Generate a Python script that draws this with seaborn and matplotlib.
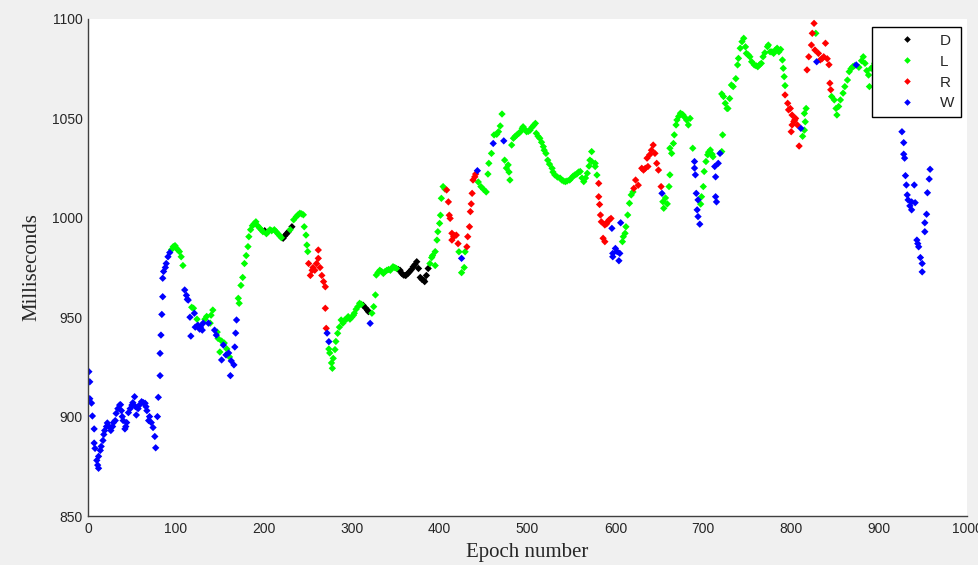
import matplotlib
matplotlib.use("Agg")
import matplotlib.pyplot as plt
import seaborn as sns
import pandas as pd

# ---------------- data ----------------
epochs = [
    1, 2, 2, 4, 5, 7, 7, 8, 10, 11, 12, 12, 14, 15, 17, 18, 19, 21, 22, 24, 26, 28, 29, 31, 32, 34, 36, 37, 38, 39,
    40, 42, 43, 44, 46, 48, 50, 51, 53, 54, 55, 57, 59, 61, 63, 65, 66, 67, 69, 70, 72, 74, 76, 77, 79, 80, 82, 82,
    83, 84, 85, 85, 86, 88, 89, 91, 93,
    95, 97, 99, 100, 102, 104, 106, 108,
    110, 112, 113, 114, 116, 117, 118, 120, 121, 122, 124, 125, 127, 128, 130, 131, 133, 135, 137, 139, 140, 142,
    144, 146, 147, 148, 150, 152, 152, 154, 155, 157, 158, 160, 161, 162, 163, 166, 167, 168, 169, 171, 172, 174,
    176, 178, 180, 182, 183, 185, 187, 189, 191, 193, 195, 197, 199, 201, 203, 205, 207, 209, 212, 214, 216, 218,
    220, 222, 224, 226, 228, 230, 232, 234, 237, 239, 241, 243, 245, 246, 248, 249, 250, 251,
    253, 255, 256, 258, 260, 262, 262, 264, 266, 268, 270, 270, 271, 272, 274, 274, 275, 277, 278, 279, 281, 282,
    284, 286, 288, 290, 292, 294, 296, 298, 300, 302, 303, 305, 307, 309, 311, 313, 316, 318, 319, 321, 323, 325,
    327, 328, 330, 332, 334, 336, 338, 340, 342, 344, 347, 349, 351, 353, 355, 357, 359, 361, 362, 364, 366, 368,
    370, 372, 374, 376, 378, 380, 382, 383, 385, 387, 389, 391, 392,
    395, 395, 397, 398, 400, 401, 402, 404, 406, 408, 410, 411,
    412, 414, 414, 416, 417, 419, 421, 422, 425, 425, 428, 429, 431, 432, 434, 435, 436, 437, 438, 440, 441, 443,
    444, 447, 450, 453, 455, 456, 459, 461, 462, 465, 467, 469, 471, 473, 474, 476, 478, 479, 480, 482, 484, 486,
    488, 490, 492, 494, 495, 497, 499, 501, 503, 505, 507, 509, 510, 512, 514, 516, 518, 519, 521, 523, 525, 528,
    529, 531, 534, 537, 539, 541, 543, 545, 548, 550, 552, 554, 556, 558, 560, 562, 564, 566, 568, 570, 571, 573,
    573, 577, 577, 579, 581, 581, 582,
    583, 584, 586, 588, 588, 590, 591, 593, 595, 596, 597, 597,
    600, 602, 604, 605, 606, 608, 609, 611,
    612, 614, 616, 618, 620, 621, 623, 626,
    630, 632, 634, 636, 637, 639, 641, 643, 645, 647, 649, 652, 653, 654, 655,
    657, 659, 661, 662, 662, 664, 666, 667, 669, 670, 672, 674, 676, 677, 679, 681, 683, 685, 688, 690, 690, 691,
    692, 693, 694, 694, 696, 697, 698, 700,
    701, 703, 705, 706, 708, 710, 711, 714, 714, 715,
    713, 717, 719, 721, 722, 721,
    723, 725, 727, 728, 730, 732, 734, 737, 739, 740, 742, 744, 746, 748, 749, 751, 753, 755, 758, 760, 762, 764,
    766, 768, 770, 773, 774, 776, 778, 780, 782, 784, 786, 788, 790, 791, 792, 793, 793,
    796, 797, 799, 800, 801, 801, 803, 804, 805, 807, 809, 811,
    813, 815, 816, 815, 817, 818,
    820, 823, 824, 826, 827, 831, 833, 835, 837, 839, 841, 843, 844, 845, 846,
    828, 829, 849,
    851, 852, 854, 856, 859, 861, 864, 866, 868, 870, 872, 874, 877, 880, 882, 884, 886, 888, 889, 891, 893, 895,
    898, 900,
    926, 928, 928, 929, 930, 931, 932, 933, 935, 937, 937, 940, 941, 943, 944, 945, 947, 949, 949, 952, 952, 954,
    955, 957, 958, 959,
]

milliseconds = [
    922.6, 917.5, 909, 906.8, 900.3, 893.8, 886.7, 884, 878, 875.6, 874, 880, 883, 885, 888, 891, 893, 895, 896.8,
    895, 893, 895, 897, 898, 901.6, 904, 905.8, 906, 903, 900, 898, 893.8, 895, 897, 902, 904, 905.8, 907, 910, 905,
    900.8, 904, 906, 907.5, 907, 906.7, 905, 903, 898, 900, 897, 894.5, 890, 884.3, 900, 909.7, 920.6, 931.8, 941,
    951.4, 960.3, 969.6, 973, 975, 977, 980.4, 982.5,
    984, 985.5, 986, 985, 984, 983, 980.4, 976,
    963.7, 961, 959, 958.6, 950, 940.5, 955, 954.5, 952, 945, 949, 946, 944, 945, 943.5, 947, 949, 950.4, 947, 947,
    951, 953.6, 943.5, 941, 942.5, 939.3, 932.5, 928.5, 938, 936, 937, 931, 934, 932, 930, 920.6, 928, 926, 935,
    942, 948.6, 959.5, 957, 966, 970, 977, 981, 985.5, 990.5, 994, 996, 997, 998, 996, 995, 994, 993, 993.5, 992,
    993, 994, 993.5, 994, 993, 992, 991, 990, 989.7, 991, 992, 993, 994, 995.5, 999, 1000.6, 1001.5, 1002.3, 1002,
    1001.5, 995.5, 991.3, 986.3, 983, 977,
    971, 973.6, 975, 973.6, 977, 983.8, 979.6, 975, 971, 967.9, 965.3, 954.5, 944.4, 942, 937.7, 934, 932, 927,
    924.3, 929.3, 933.7, 937.8, 941.9, 945, 948.6, 947, 948.6, 949, 950.3, 949, 950, 951, 952, 954, 955.3, 957,
    956.5, 956, 954.5, 953.5, 952.8, 946.9, 952, 955.3, 961.2, 971.2, 972.5, 973.6, 973, 972, 973, 973.6, 974,
    973.6, 975.4, 975, 974.5, 974, 973.6, 972, 971.2, 971, 971.2, 972, 973, 974, 975.4, 976.5, 977.9, 974.5, 970,
    969, 968.6, 967.9, 971, 974.5, 977, 980, 981,
    983, 976, 988.8, 993, 997.2, 1001.3, 1009.8, 1015.7, 1014.5, 1014, 1008, 1001.3,
    999.7, 992.2, 988.8, 990.5, 991, 991.3, 987, 982.9, 979.6, 972.4, 975, 982.9, 985.4, 990.5, 995.5, 1003.1,
    1007, 1012.3, 1019, 1020.6, 1022, 1023.7, 1018, 1015.7, 1014.3, 1013, 1022, 1027.4, 1032.4, 1037.4, 1041.7,
    1042, 1043.3, 1046.2, 1052.2, 1038.7, 1029, 1025, 1026.6, 1023, 1019, 1036.6, 1040, 1041, 1041.7, 1042.5,
    1043.3, 1045, 1045.8, 1044.5, 1043.3, 1043.5, 1044.1, 1045.5, 1046.5, 1047.5, 1042.5, 1041, 1040, 1038, 1035.8,
    1034, 1032.4, 1029, 1027, 1024.9, 1023, 1021.6, 1020.5, 1020, 1019, 1018.5, 1018.2, 1018.5, 1019, 1020, 1021,
    1021.6, 1022, 1023, 1023.3, 1020, 1018.2, 1020, 1022.4, 1026, 1029, 1033.3, 1028.3, 1025.8, 1027.4, 1021.5,
    1017.3, 1010.6, 1006.7,
    1001.4, 998, 989.7, 988, 996.4, 997, 998, 999, 999.7, 994.7, 982.1, 980.4,
    984.6, 983, 978.4, 982.1, 997.5, 988, 990.5, 992.2,
    995.5, 1001.4, 1007.3, 1011.5, 1013, 1014.8, 1019, 1016.4,
    1024.9, 1024, 1024.9, 1030, 1025.8, 1031.7, 1034, 1036.6, 1032.4, 1027.4, 1024, 1015.7, 1012.3, 1008.1, 1004.8,
    1010, 1007, 1015.7, 1021.6, 1035, 1032.4, 1037.4, 1041.7, 1046.7, 1049.2, 1051, 1052.6, 1052, 1051.7, 1050.5,
    1049.2, 1046.7, 1050, 1035, 1028.3, 1025, 1021.6,
    1012.3, 1004, 1009, 1000.6, 996.8, 1006.9, 1010.6, 1015.7,
    1023.3, 1028.3, 1031.7, 1033, 1034.1, 1032, 1030.7, 1020.6, 1010.6, 1008,
    1025.8, 1027.4, 1032.4, 1033.3, 1041.7, 1062.3,
    1061, 1057.6, 1055, 1055, 1060, 1066.8, 1066, 1070, 1076.9, 1080.2, 1085.3, 1088.6, 1090.3, 1086, 1082.7, 1082,
    1081, 1078.5, 1076.9, 1076.5, 1076, 1077, 1077.7, 1081, 1083, 1086.1, 1086.9, 1083.5, 1083.5, 1082.7, 1084.4,
    1085.3, 1083.5, 1084.7, 1079.4, 1075.2, 1071, 1066.5, 1061.8,
    1057.6, 1054.3, 1055, 1043.3, 1051.7, 1046.7, 1048.4, 1049.2, 1050, 1046.7, 1036.1, 1045,
    1041, 1044.1, 1048.3, 1052.5, 1055, 1074.4,
    1081, 1086.9, 1092.8, 1097.8, 1084.4, 1082.7, 1079.4, 1080, 1081, 1087.8, 1080, 1077, 1067.7, 1064.4, 1061,
    1092.8, 1078.5, 1059.3,
    1055, 1051.7, 1056, 1059.3, 1062.7, 1066, 1069.3, 1073.5, 1075, 1076, 1076.5, 1076.9, 1075.7, 1079, 1081,
    1077.7, 1074, 1071.8, 1066, 1075.2, 1076, 1077.7, 1071, 1075,
    1043.3, 1037.8, 1032, 1030, 1021.2, 1016.5, 1011.5, 1009, 1006, 1008, 1004, 1016.5, 1007.6, 988.8, 987, 985.4,
    980, 977, 972.8, 993, 997.5, 1001.8, 1012.6, 1019.5, 1024.4, 1026.6,
]

states = (
    "W" * 67
    + "L" * 8
    + "WWWWWWLLWWLWWWWWLLWLLLWWLLLWLWLWLWLWWWWWWLLLLLLLLLLLLLLLLDLLLLLLLLLDDDDLDLLLLLLLLLL"
    + "RRRRRRRRRRRRRRWWLLLLLLLLLLLLLLLLLLLLLLDDDDWLLLLLLLLLLLLLLLDDDDDDDDDDDDDDDDDDD"
    + "LLLLLLLLLLLL"
    + "RRRRRRRRRRLWLLLRRRRRRRRRWLLLLLLLWLLLLLWLLLLLLLLLLLLLLLLLLLLLLLLLLLLLLLLLLLLLLLLLLLLLLLLLLLLLLLL"
    + "RRRRRRRRRRRR"
    + "WWWWWWWW"
    + "LLLLLLLL"
    + "RRRRRRRRRRRRRRR"
    + "WLLLLLLLLLLLLLLLLLLLLL"
    + "WWWWWWWW"
    + "LLLLLLLLLL"
    + "WWWWWW"
    + "LLLLLLLLLLLLLLLLLLLLLLLLLLLLLLLLLLLLLLLLL"
    + "RRRRRRRRRRRR"
    + "WLLLLL"
    + "RRRRRRRRRRRRRRR"
    + "LLW"
    + "LLLLLLLLLLLLWLLLLLLLLLLL"
    + "W" * 26
)

state_order = ["D", "L", "R", "W"]
state_colors = ["#000000", "#00ff00", "#ff0000", "#0000ff"]
x_ticks = [0, 100, 200, 300, 400, 500, 600, 700, 800, 900, 1000]
y_ticks = [850, 900, 950, 1000, 1050, 1100]

# ---------------- figure ----------------
sns.set_style("white")
plt.rcParams["font.family"] = ["Liberation Sans", "DejaVu Sans"]

n = min(len(epochs), len(milliseconds), len(states))
df = pd.DataFrame({"Epoch": epochs[:n], "ms": milliseconds[:n], "State": list(states[:n])})
df["State"] = pd.Categorical(df["State"], categories=state_order, ordered=True)
df = df.sort_values("State", kind="stable")

fig = plt.figure(figsize=(9.79, 5.65), dpi=100, facecolor="#f0f0f0")
ax = fig.add_axes([88 / 979, 1 - 516 / 565, (967 - 88) / 979, (516 - 19) / 565])
ax.set_facecolor("white")

sns.scatterplot(
    data=df, x="Epoch", y="ms", hue="State", hue_order=state_order,
    palette=dict(zip(state_order, state_colors)), marker="D", s=14,
    linewidth=0, ax=ax, legend=True,
)

ax.set_xlim(0, 1000)
ax.set_ylim(850, 1100)
ax.set_xticks(x_ticks)
ax.set_yticks(y_ticks)
ax.tick_params(direction="in", length=7, width=0.8, colors="#262626", labelsize=10, pad=4)
for side in ["top", "right"]:
    ax.spines[side].set_visible(False)
for side in ["left", "bottom"]:
    ax.spines[side].set_color("#404040")
    ax.spines[side].set_linewidth(1.0)

serif = ["Liberation Serif", "DejaVu Serif"]
ax.set_xlabel("Epoch number", family=serif, fontsize=15, labelpad=5)
ax.set_ylabel("Milliseconds", family=serif, fontsize=15, labelpad=7)

handles, labels = ax.get_legend_handles_labels()
leg = ax.legend(
    handles, labels, loc="upper right", bbox_to_anchor=(0.993, 0.984), borderaxespad=0,
    frameon=True, fancybox=False, edgecolor="black", framealpha=1, fontsize=11,
    handlelength=3.7, handletextpad=0.3, labelspacing=0.45, borderpad=0.45, markerscale=0.9,
)
leg.get_frame().set_linewidth(1.0)

fig.savefig("out.png", dpi=100, facecolor=fig.get_facecolor())
